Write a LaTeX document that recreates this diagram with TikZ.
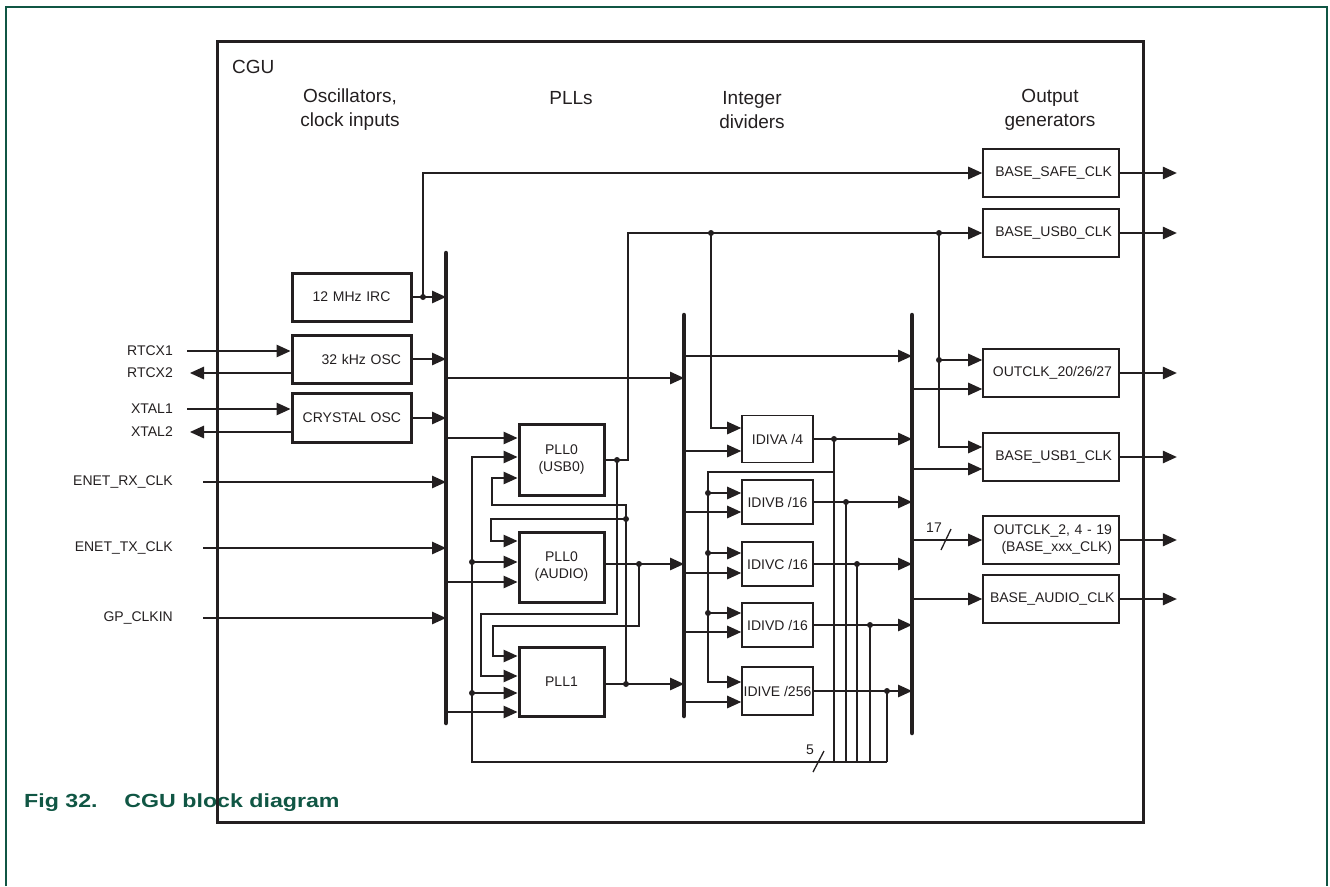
\documentclass[tikz,border=0pt]{standalone}
\usepackage{fontspec}
\usepackage{graphicx}
\setmainfont{Liberation Sans}
\usetikzlibrary{arrows.meta}

\definecolor{linegray}{RGB}{35,31,32}
\definecolor{nxpgreen}{RGB}{16,86,68}

\tikzset{
  ln/.style={draw=linegray,line width=1.3pt},
  arr/.style={ln,-{Triangle[length=14pt,width=12.5pt]}},
  bus/.style={draw=linegray,line width=4.5pt,line cap=round},
  lbl/.style={font=\fontsize{14}{17}\selectfont,text=linegray,inner sep=0pt},
  head/.style={font=\fontsize{19}{24}\selectfont,text=linegray,align=center,inner sep=0pt},
  oscbox/.style={lbl,draw=linegray,line width=3pt,minimum height=48pt,text width=99pt,inner xsep=10pt,align=right},
  pllbox/.style={lbl,draw=linegray,line width=3pt,minimum width=85pt,align=center},
  divbox/.style={lbl,draw=linegray,line width=1.6pt,minimum width=71pt,minimum height=44pt,inner xsep=1pt},
  genbox/.style={lbl,draw=linegray,line width=1.6pt,minimum height=48pt,text width=122pt,inner xsep=7pt,align=right}
}
\newcommand\jdot[1]{\fill[linegray] (#1) circle (3pt);}

\begin{document}
\begin{tikzpicture}[x=1pt,y=-1pt]
\useasboundingbox (0,0) rectangle (1330,886);

% frame
\draw[nxpgreen,line width=1.4pt] (6,886) -- (6,7) -- (1327,7) -- (1327,886);
\node[anchor=base west,inner sep=0pt,text=nxpgreen,font=\fontsize{19}{22}\selectfont\bfseries] (cap) at (24,807)
  {\scalebox{1.22}[1]{Fig 32.\hspace{22pt}CGU block diagram}};

% CGU
\draw[linegray,line width=3pt] (217,41) rectangle (1143,822);
\node[head,anchor=west] (cgu) at (232,67) {CGU};
\node[head] (h1) at (350,110) {Oscillators,\\clock inputs};
\node[head] (h2) at (571,98) {PLLs};
\node[head] (h3) at (752,110) {Integer\\dividers};
\node[head] (h4) at (1050,110) {Output\\generators};

% buses
\coordinate (b1t) at (446,253); \coordinate (b1b) at (446,723);
\coordinate (b2t) at (684,315); \coordinate (b2b) at (684,716);
\coordinate (b3t) at (912,315); \coordinate (b3b) at (912,733);

% boxes
\node[oscbox,align=center] (irc) at (351.5,297) {12 MHz IRC};
\node[oscbox] (osc32) at (351.5,359) {32 kHz OSC};
\node[oscbox,minimum height=49pt] (xtal) at (351.5,418) {CRYSTAL OSC};

\node[pllbox,minimum height=71pt] (pllusb) at (561.5,460) {PLL0\\(USB0)};
\node[pllbox,minimum height=70pt] (pllaud) at (561.5,567) {PLL0\\(AUDIO)};
\node[pllbox,minimum height=69pt] (pll1) at (561.5,681.5) {PLL1};

\node[divbox,minimum height=47pt] (idiva) at (777.5,439) {IDIVA /4};
\node[divbox] (idivb) at (777.5,502) {IDIVB /16};
\node[divbox] (idivc) at (777.5,564) {IDIVC /16};
\node[divbox] (idivd) at (777.5,625) {IDIVD /16};
\node[divbox,minimum height=48pt] (idive) at (777.5,691) {IDIVE /256};

\node[genbox] (safe) at (1051,173) {BASE\_SAFE\_CLK};
\node[genbox] (usb0) at (1051,233) {BASE\_USB0\_CLK};
\node[genbox] (oc20) at (1051,373) {OUTCLK\_20/26/27};
\node[genbox] (usb1) at (1051,457) {BASE\_USB1\_CLK};
\node[genbox] (oc2) at (1051,540) {OUTCLK\_2, 4 - 19\\(BASE\_xxx\_CLK)};
\node[genbox] (audio) at (1051,599) {BASE\_AUDIO\_CLK};

% pins
\node[lbl,anchor=east] (rtcx1) at (173,351) {RTCX1};
\node[lbl,anchor=east] (rtcx2) at (173,373) {RTCX2};
\node[lbl,anchor=east] (xtal1) at (173,409) {XTAL1};
\node[lbl,anchor=east] (xtal2) at (173,432) {XTAL2};
\node[lbl,anchor=east] (enetrx) at (173,482) {ENET\_RX\_CLK};
\node[lbl,anchor=east] (enettx) at (173,548) {ENET\_TX\_CLK};
\node[lbl,anchor=east] (gpclk) at (173,618) {GP\_CLKIN};

% ports
\coordinate (r1) at (osc32.west |- 0,351);
\coordinate (r2) at (osc32.west |- 0,373);
\coordinate (x1) at (xtal.west |- 0,409);
\coordinate (x2) at (xtal.west |- 0,432);
\foreach \n/\y in {u0a/438,u0b/457,u0c/478}{\coordinate (\n) at (pllusb.west |- 0,\y);}
\foreach \n/\y in {aua/541,aub/562,auc/582}{\coordinate (\n) at (pllaud.west |- 0,\y);}
\foreach \n/\y in {p1a/656,p1b/676,p1c/693,p1d/712}{\coordinate (\n) at (pll1.west |- 0,\y);}
\coordinate (auo) at (pllaud.east |- 0,564);
\coordinate (p1o) at (pll1.east |- 0,684);
\foreach \d/\a/\b in {idiva/428/451,idivb/493/512,idivc/553/573,idivd/613/632,idive/682/702}{
  \coordinate (\d1) at (\d.west |- 0,\a);
  \coordinate (\d2) at (\d.west |- 0,\b);
}
\coordinate (oc20a) at (oc20.west |- 0,360);
\coordinate (oc20b) at (oc20.west |- 0,389);
\coordinate (usb1a) at (usb1.west |- 0,447);
\coordinate (usb1b) at (usb1.west |- 0,469);
\foreach \n in {safe,usb0,oc20,usb1,oc2,audio}{\coordinate (o\n) at ([xshift=57pt]\n.east);}

% wiring columns and rows
\coordinate (cir) at (423,0);  \coordinate (cua) at (711,0);  \coordinate (cva) at (939,0);
\coordinate (cud) at (617,0);  \coordinate (cuc) at (628,0);  \coordinate (cad) at (639,0);
\coordinate (cpd) at (626,0);  \coordinate (cfb) at (472,0);  \coordinate (cuf) at (481,0);
\coordinate (cpf) at (492,0);  \coordinate (cph) at (491,0);  \coordinate (caf) at (493,0);
\coordinate (cch) at (708,0);
\coordinate (fa) at (834,0); \coordinate (fb) at (846,0); \coordinate (fc) at (857,0);
\coordinate (fd) at (870,0); \coordinate (fe) at (887,0);
\coordinate (rbot) at (0,762); \coordinate (rch) at (0,472);
\coordinate (rue) at (0,614);  \coordinate (rae) at (0,626);
\coordinate (rpe) at (0,505);  \coordinate (rpg) at (0,519);

% pins -> oscillators, bus 1
\draw[arr] ([xshift=14pt]rtcx1.east) -- (r1);
\draw[arr] (r2) -- ([xshift=17pt]rtcx2.east);
\draw[arr] ([xshift=14pt]xtal1.east) -- (x1);
\draw[arr] (x2) -- ([xshift=17pt]xtal2.east);
\foreach \n in {enetrx,enettx,gpclk}{\draw[arr] ([xshift=30pt]\n.east) -- (\n.east -| b1t);}
\foreach \n in {irc,osc32,xtal}{\draw[arr] (\n.east) -- (\n.east -| b1t);}

% IRC -> BASE_SAFE_CLK
\draw[arr] (cir |- irc.east) -- (cir |- safe.west) -- (safe.west);
\jdot{cir |- irc.east}

% bus 1 -> bus 2, PLLs
\coordinate (k1) at (b1t |- 0,378);
\draw[arr] (k1) -- (k1 -| b2t);
\foreach \p in {u0a,auc,p1d}{\draw[arr] (b1t |- \p) -- (\p);}

% PLL0 (USB0)
\draw[arr] (pllusb.east) -- (cuc |- pllusb.east) -- (cuc |- usb0.west) -- (usb0.west);
\draw[arr] (cud |- pllusb.east) -- (cud |- rue) -- (cuf |- rue) -- (cuf |- p1b) -- (p1b);
\jdot{cud |- pllusb.east}

% PLL0 (AUDIO)
\draw[arr] (auo) -- (auo -| b2t);
\draw[arr] (cad |- auo) -- (cad |- rae) -- (caf |- rae) -- (caf |- p1a) -- (p1a);
\jdot{cad |- auo}

% PLL1
\draw[arr] (p1o) -- (p1o -| b2t);
\draw[arr] (cpd |- p1o) -- (cpd |- rpe) -- (cpf |- rpe) -- (cpf |- u0c) -- (u0c);
\draw[arr] (cpd |- rpg) -- (cph |- rpg) -- (cph |- aua) -- (aua);
\jdot{cpd |- p1o}
\jdot{cpd |- rpg}

% feedback from dividers
\draw[arr] (fe |- rbot) -- (cfb |- rbot) -- (cfb |- u0b) -- (u0b);
\foreach \p in {aub,p1c}{\draw[arr] (cfb |- \p) -- (\p); \jdot{cfb |- \p}}
\draw[ln] (rbot -| fa) ++(-21,10) -- ++(11,-21);
\node[lbl] (n5) at (810,750) {5};

% bus 2 -> bus 3, dividers
\coordinate (k2) at (b2t |- 0,356);
\draw[arr] (k2) -- (k2 -| b3t);
\foreach \p in {idiva2,idivb2,idivc2,idivd2,idive2}{\draw[arr] (b2t |- \p) -- (\p);}
\draw[arr] (cua |- usb0.west) -- (cua |- idiva1) -- (idiva1);
\jdot{cua |- usb0.west}
\draw[arr] (fa |- rch) -- (cch |- rch) -- (cch |- idive1) -- (idive1);
\foreach \p in {idivb1,idivc1,idivd1}{\draw[arr] (cch |- \p) -- (\p); \jdot{cch |- \p}}
\foreach \d/\c in {idiva/fa,idivb/fb,idivc/fc,idivd/fd,idive/fe}{
  \draw[arr] (\d.east) -- (\d.east -| b3t);
  \draw[ln] (\c |- \d.east) -- (\c |- rbot);
  \jdot{\c |- \d.east}
}

% bus 3 -> output generators
\draw[arr] (cva |- usb0.west) -- (cva |- usb1a) -- (usb1a);
\draw[arr] (cva |- oc20a) -- (oc20a);
\jdot{cva |- usb0.west}
\jdot{cva |- oc20a}
\foreach \p in {oc20b,usb1b,oc2.west,audio.west}{\draw[arr] (b3t |- \p) -- (\p);}
\draw[ln] (b3t |- oc2.west) ++(29,10) -- ++(10,-21);
\node[lbl] (n17) at (934,528) {17};
\foreach \n in {safe,usb0,oc20,usb1,oc2,audio}{\draw[arr] (\n.east) -- (o\n);}

% buses on top
\draw[bus] (b1t) -- (b1b);
\draw[bus] (b2t) -- (b2b);
\draw[bus] (b3t) -- (b3b);
\end{tikzpicture}
\end{document}
